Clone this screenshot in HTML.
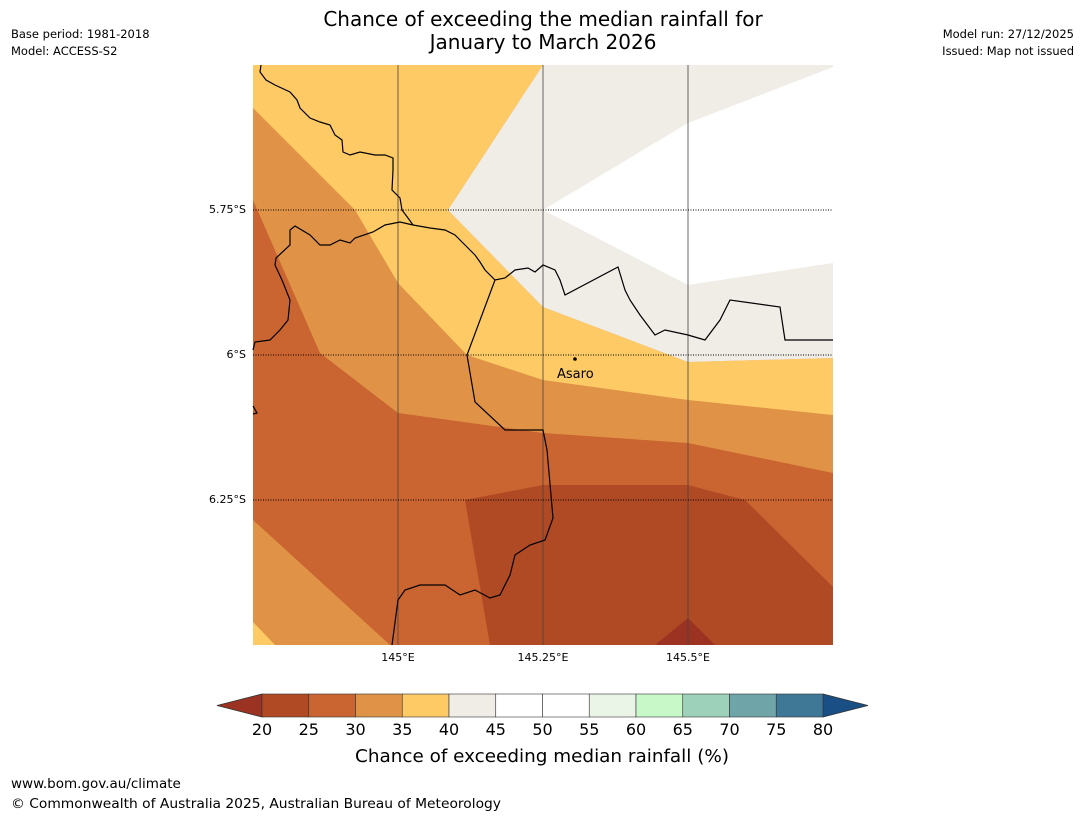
<!DOCTYPE html>
<html><head><meta charset="utf-8"><style>
body{margin:0;background:#fff;font-family:"DejaVu Sans","Liberation Sans",sans-serif;}
svg{display:block}
</style></head><body>
<svg width="1085" height="816" xmlns="http://www.w3.org/2000/svg" font-family="DejaVu Sans, Liberation Sans, sans-serif">
<text x="543" y="26" font-size="20" text-anchor="middle">Chance of exceeding the median rainfall for</text>
<text x="543" y="49" font-size="20" text-anchor="middle">January to March 2026</text>
<text x="11" y="38" font-size="11.5">Base period: 1981-2018</text>
<text x="11" y="55" font-size="11.5">Model: ACCESS-S2</text>
<text x="1074" y="38" font-size="11.5" text-anchor="end">Model run: 27/12/2025</text>
<text x="1074" y="55" font-size="11.5" text-anchor="end">Issued: Map not issued</text>

<g>
<rect x="253" y="65" width="580" height="580" fill="#ca6430"/>
<polygon fill="#e09347" points="253,65 833,65 833,473 688,443 543,433 398,413 320,353 253,200"/>
<polygon fill="#e09347" points="253,520 390,645 253,645"/>
<polygon fill="#fdca65" points="253,622 275,645 253,645"/>
<polygon fill="#fdca65" points="253,65 543,65 448,210 543,307 688,362 833,358 833,415 688,400 543,380 467,355 398,283 355,210 253,108"/>
<polygon fill="#f0ece6" points="543,65 833,65 833,358 688,362 543,307 448,210"/>
<polygon fill="#ffffff" points="543,210 688,123 833,67 833,263 688,285"/>
<polygon fill="#b04a24" points="465,500 543,485 688,485 745,500 833,587 833,645 490,645"/>
<polygon fill="#9c3222" points="655,645 688,618 715,645"/>
<g stroke="#444" stroke-width="1" opacity="0.8">
<line x1="398" y1="65" x2="398" y2="645"/>
<line x1="543" y1="65" x2="543" y2="645"/>
<line x1="688" y1="65" x2="688" y2="645"/>
</g>
<g stroke="#000" stroke-width="1" stroke-dasharray="1,1.5">
<line x1="253" y1="210" x2="833" y2="210"/>
<line x1="253" y1="355" x2="833" y2="355"/>
<line x1="253" y1="500" x2="833" y2="500"/>
</g>
<g fill="none" stroke="#000" stroke-width="1.2">
<polyline points="261,65 260,72 266,80 275,85 290,92 297,100 300,108 310,118 320,122 330,125 335,135 342,140 343,152 350,155 360,152 375,155 385,155 393,158 393,170 392,190 400,198 402,210 408,218 413,225"/>
<polyline points="413,225 400,222 385,225 373,232 355,238 350,243 340,240 330,245 320,245 310,235 295,226 290,230 290,245 276,258 275,265 282,280 290,300 288,320 280,330 270,340 255,342 253,350"/>
<polyline points="413,225 430,228 445,230 455,235 465,245 475,255 480,262 485,270 495,280 505,278 515,270 528,268 535,272 543,265 555,270 560,280 565,295 618,267 625,290 630,300 640,315 655,335 665,330 688,335 705,340 720,320 730,300 780,307 785,340 833,340"/>
<polyline points="495,280 467,355 475,402 505,430 543,430 547,450 553,518 545,540 530,545 515,555 510,575 500,595 490,598 475,590 460,595 445,585 420,585 405,590 398,600 392,645"/>
<polyline points="253,406 257,413 253,414"/>
</g>
<circle cx="575" cy="359" r="1.8" fill="#000"/>
<text x="557" y="378" font-size="13">Asaro</text>
</g>
<g font-size="11" fill="#000">
<text x="246" y="213" text-anchor="end">5.75°S</text>
<text x="246" y="358" text-anchor="end">6°S</text>
<text x="246" y="503" text-anchor="end">6.25°S</text>
<text x="398" y="661" text-anchor="middle">145°E</text>
<text x="543" y="661" text-anchor="middle">145.25°E</text>
<text x="688" y="661" text-anchor="middle">145.5°E</text>
</g>
<g id="cbar"></g>
<text x="542" y="762" font-size="17.8" text-anchor="middle" textLength="374" lengthAdjust="spacingAndGlyphs">Chance of exceeding median rainfall (%)</text>
<text x="11" y="788" font-size="13.5">www.bom.gov.au/climate</text>
<text x="11" y="808" font-size="13.5" textLength="490" lengthAdjust="spacingAndGlyphs">© Commonwealth of Australia 2025, Australian Bureau of Meteorology</text>
</svg>
<script>
const cbTicks=[20,25,30,35,40,45,50,55,60,65,70,75,80];
const cbColors=["#b04a24","#ca6430","#e09347","#fdca65","#f0ece6","#ffffff","#ffffff","#eaf5e8","#c8f7c8","#9dd1b9","#6fa4a8","#3f7896"];
const cbUnder="#9c3222", cbOver="#1a4f86";
const NS="http://www.w3.org/2000/svg";
const g=document.getElementById('cbar');
const x0=262,x1=823,y0=694,y1=717;
const sx=v=>x0+(v-20)/(80-20)*(x1-x0);
function mk(t,a){const e=document.createElementNS(NS,t);for(const k in a)e.setAttribute(k,a[k]);g.appendChild(e);return e;}
let u=mk('polygon',{points:`${x0},${y0} ${x0},${y1} 217,${(y0+y1)/2}`,fill:cbUnder,stroke:'#333','stroke-width':0.8});


let o=mk('polygon',{points:`${x1},${y0} ${x1},${y1} 868,${(y0+y1)/2}`,fill:cbOver,stroke:'#333','stroke-width':0.8});


cbColors.forEach((c,i)=>{
 const a=sx(cbTicks[i]),b=sx(cbTicks[i+1]);
 const r=mk('rect',{x:a,y:y0,width:b-a,height:y1-y0,fill:c,stroke:'#333','stroke-width':0.6});
 
 
});
cbTicks.forEach(v=>{
 const t=mk('text',{x:sx(v),y:735,'font-size':16,'text-anchor':'middle'});
 t.textContent=v;
 
 
});
</script>
</body></html>
